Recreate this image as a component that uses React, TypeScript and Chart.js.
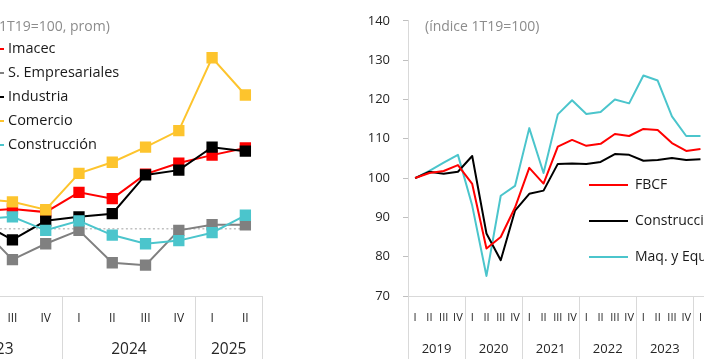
import React, { useEffect, useRef } from 'react';
import { Chart, registerables } from 'chart.js';
Chart.register(...registerables);

// ---------- Left panel data (sectors) ----------
const leftQuarters = ['I', 'II', 'III', 'IV', 'I', 'II', 'III', 'IV', 'I', 'II'];
const leftYears = ['2023', '2024', '2025'];
const leftYearSpans = [4, 4, 2];
const imacec = [102.1, 102.2, 102.5, 102.1, 104.6, 103.8, 106.9, 108.3, 109.3, 110.2];
const servEmpresariales = [100.5, 100.4, 96.1, 98.1, 99.8, 95.7, 95.4, 99.8, 100.5, 100.5];
const industria = [101.1, 100.9, 98.6, 101.0, 101.5, 101.9, 106.8, 107.4, 110.3, 109.8];
const comercio = [103.6, 103.8, 103.4, 102.4, 107.0, 108.4, 110.3, 112.4, 121.6, 116.9];
const construccionSector = [101.1, 101.2, 101.5, 99.8, 101.0, 99.2, 98.1, 98.5, 99.5, 101.7];
const referencia = [100, 100, 100, 100, 100, 100, 100, 100, 100, 100];
const leftLegend = ['Imacec', 'S. Empresariales', 'Industria', 'Comercio', 'Construcción'];
const leftTitle = '(índice 1T19=100, prom)';
const leftTitlePrefix = '(índice ';

// ---------- Right panel data (investment) ----------
const rightQuarters = [
  'I', 'II', 'III', 'IV', 'I', 'II', 'III', 'IV', 'I', 'II', 'III', 'IV',
  'I', 'II', 'III', 'IV', 'I', 'II', 'III', 'IV', 'I', 'II', 'III', 'IV', 'I', 'II',
];
const rightYears = ['2019', '2020', '2021', '2022', '2023', '2024', '2025'];
const rightYearSpans = [4, 4, 4, 4, 4, 4, 2];
const fbcf = [100, 101.3, 101.8, 103.3, 98.5, 82.1, 85.0, 92.5, 102.6, 98.6, 108.0, 109.7, 108.2, 108.7, 111.2, 110.7, 112.5, 112.2, 108.9, 106.9, 107.4];
const construccionInv = [100, 101.6, 101.1, 101.6, 105.6, 85.9, 79.1, 91.7, 96.0, 96.8, 103.6, 103.7, 103.6, 104.1, 106.1, 105.9, 104.4, 104.6, 105.1, 104.6, 104.8];
const maqEquipos = [100, 101.8, 103.9, 105.9, 93.0, 75.1, 95.5, 98.0, 112.7, 101.3, 116.2, 119.8, 116.3, 116.8, 120.0, 119.0, 126.1, 124.8, 115.7, 110.7, 110.7];
const rightYTicks = [70, 80, 90, 100, 110, 120, 130, 140];
const rightLegend = ['FBCF', 'Construcción', 'Maq. y Equipos'];
const rightTitle = '(índice 1T19=100)';

const FONT = "'Open Sans', 'DejaVu Sans', sans-serif";
const RED = '#ff0000';
const GRAY = '#808080';
const BLACK = '#000000';
const YELLOW = '#fdc42d';
const CYAN = '#4bc5cc';
const AXIS = '#d9d9d9';

const LEFT_X = -80; // page position of left canvas
const LEFT_W = 350;
const RIGHT_X = 350;
const RIGHT_W = 440;
const H = 359;

function groupPlugin(years: string[], spans: number[], fontSize: number, yCenter: number) {
  return {
    id: 'yearGroups',
    afterDraw(chart: any) {
      const xs = chart.scales.x;
      const ctx = chart.ctx;
      const top = chart.chartArea.bottom;
      const half = (xs.getPixelForValue(1) - xs.getPixelForValue(0)) / 2;
      ctx.save();
      ctx.strokeStyle = AXIS;
      ctx.lineWidth = 1;
      ctx.fillStyle = '#262626';
      ctx.font = `${fontSize}px ${FONT}`;
      ctx.textAlign = 'center';
      ctx.textBaseline = 'middle';
      let idx = 0;
      const drawSep = (x: number) => {
        const xx = Math.round(x) + 0.5;
        ctx.beginPath();
        ctx.moveTo(xx, top);
        ctx.lineTo(xx, H);
        ctx.stroke();
      };
      years.forEach((yr, i) => {
        const start = xs.getPixelForValue(idx) - half;
        const end = xs.getPixelForValue(idx + spans[i] - 1) + half;
        drawSep(start);
        if (i === years.length - 1) drawSep(end);
        ctx.fillText(yr, (start + end) / 2, yCenter);
        idx += spans[i];
      });
      ctx.restore();
    },
  };
}

function LeftChart() {
  const ref = useRef<HTMLCanvasElement>(null);
  useEffect(() => {
    const colors = [RED, GRAY, BLACK, YELLOW, CYAN];
    const series = [imacec, servEmpresariales, industria, comercio, construccionSector];
    const orders = [5, 4, 3, 2, 1];
    const datasets: any[] = series.map((d, i) => ({
      label: leftLegend[i],
      data: d,
      borderColor: colors[i],
      backgroundColor: colors[i],
      borderWidth: 2,
      pointStyle: 'rect',
      pointRadius: 8,
      pointBorderWidth: 0,
      pointBackgroundColor: colors[i],
      tension: 0,
      order: orders[i],
    }));
    datasets.push({
      label: 'ref',
      data: referencia,
      borderColor: '#c0c0c0',
      borderWidth: 1.5,
      borderDash: [2, 2.5],
      pointRadius: 0,
      order: 10,
    });
    const legendPlugin = {
      id: 'leftLegend',
      afterDraw(chart: any) {
        const ctx = chart.ctx;
        ctx.save();
        ctx.font = `14px ${FONT}`;
        ctx.fillStyle = '#8c8c8c';
        ctx.textBaseline = 'middle';
        ctx.textAlign = 'left';
        const pw = ctx.measureText(leftTitlePrefix).width;
        ctx.fillText(leftTitle, -1 - LEFT_X - pw, 27);
        ctx.font = `14.5px ${FONT}`;
        leftLegend.forEach((name, i) => {
          const y = 49 + 24 * i;
          ctx.strokeStyle = colors[i];
          ctx.lineWidth = 2;
          ctx.beginPath();
          ctx.moveTo(-30 - LEFT_X, y);
          ctx.lineTo(4 - LEFT_X, y);
          ctx.stroke();
          ctx.fillStyle = colors[i];
          ctx.fillRect(-18 - LEFT_X, y - 5, 10, 10);
          ctx.fillStyle = '#1a1a1a';
          ctx.fillText(name, 8 - LEFT_X, y);
        });
        ctx.restore();
      },
    };
    const chart = new Chart(ref.current!, {
      type: 'line',
      data: { labels: leftQuarters, datasets },
      options: {
        animation: false,
        responsive: false,
        maintainAspectRatio: false,
        layout: { padding: { left: 9.25, right: 6.25, top: 19, bottom: 0 } },
        plugins: { legend: { display: false }, tooltip: { enabled: false } },
        scales: {
          x: {
            type: 'category',
            offset: true,
            grid: { display: false, drawTicks: false },
            border: { display: true, color: AXIS, width: 1 },
            ticks: { autoSkip: false, maxRotation: 0, font: { size: 12, family: FONT }, color: '#262626', padding: 15 },
            afterFit: (s: any) => { s.height = H - 296; },
          },
          y: { display: false, min: 91.5, max: 126.5 },
        },
      },
      plugins: [groupPlugin(leftYears, leftYearSpans, 15.5, 350), legendPlugin],
    } as any);
    return () => chart.destroy();
  }, []);
  return (
    <canvas
      ref={ref}
      width={LEFT_W}
      height={H}
      style={{ position: 'absolute', left: LEFT_X, top: 0, width: LEFT_W, height: H }}
    />
  );
}

function RightChart() {
  const ref = useRef<HTMLCanvasElement>(null);
  useEffect(() => {
    const colors = [RED, BLACK, CYAN];
    const series = [fbcf, construccionInv, maqEquipos];
    const datasets = series.map((d, i) => ({
      label: rightLegend[i],
      data: d,
      borderColor: colors[i],
      backgroundColor: colors[i],
      borderWidth: 2,
      pointRadius: 0,
      tension: 0,
      borderJoinStyle: 'round',
    }));
    const legendPlugin = {
      id: 'rightLegend',
      afterDraw(chart: any) {
        const ctx = chart.ctx;
        ctx.save();
        ctx.font = `14px ${FONT}`;
        ctx.textBaseline = 'middle';
        ctx.textAlign = 'left';
        ctx.fillStyle = '#8c8c8c';
        ctx.fillText(rightTitle, 425 - RIGHT_X, 27);
        rightLegend.forEach((name, i) => {
          const y = 185 + 36 * i;
          ctx.strokeStyle = colors[i];
          ctx.lineWidth = 2;
          ctx.beginPath();
          ctx.moveTo(589 - RIGHT_X, y);
          ctx.lineTo(628 - RIGHT_X, y);
          ctx.stroke();
          ctx.fillStyle = '#1a1a1a';
          ctx.fillText(name, 635 - RIGHT_X, y);
        });
        ctx.restore();
      },
    };
    const chart = new Chart(ref.current!, {
      type: 'line',
      data: { labels: rightQuarters, datasets },
      options: {
        animation: false,
        responsive: false,
        maintainAspectRatio: false,
        layout: { padding: { left: 0, right: 6.3, top: 19, bottom: 0 } },
        plugins: { legend: { display: false }, tooltip: { enabled: false } },
        scales: {
          x: {
            type: 'category',
            offset: true,
            grid: { display: false, drawTicks: false },
            border: { display: true, color: AXIS, width: 1 },
            ticks: { autoSkip: false, maxRotation: 0, font: { size: 11, family: FONT }, color: '#262626', padding: 15 },
            afterFit: (s: any) => { s.height = H - 296; },
          },
          y: {
            min: rightYTicks[0],
            max: rightYTicks[rightYTicks.length - 1],
            afterBuildTicks: (s: any) => { s.ticks = rightYTicks.map((v) => ({ value: v })); },
            ticks: { font: { size: 13, family: FONT }, color: '#262626', padding: 13 },
            grid: { display: true, drawOnChartArea: false, drawTicks: true, tickLength: 5, color: '#bfbfbf' },
            border: { display: true, color: AXIS, width: 1 },
            afterFit: (s: any) => { s.width = 408 - RIGHT_X; },
          },
        },
      },
      plugins: [groupPlugin(rightYears, rightYearSpans, 13, 349), legendPlugin],
    } as any);
    return () => chart.destroy();
  }, []);
  return (
    <canvas
      ref={ref}
      width={RIGHT_W}
      height={H}
      style={{ position: 'absolute', left: RIGHT_X, top: 0, width: RIGHT_W, height: H }}
    />
  );
}

export default function App() {
  return (
    <div
      style={{
        position: 'fixed',
        left: 0,
        top: 0,
        width: 704,
        height: H,
        overflow: 'hidden',
        background: '#ffffff',
      }}
    >
      <LeftChart />
      <RightChart />
    </div>
  );
}
